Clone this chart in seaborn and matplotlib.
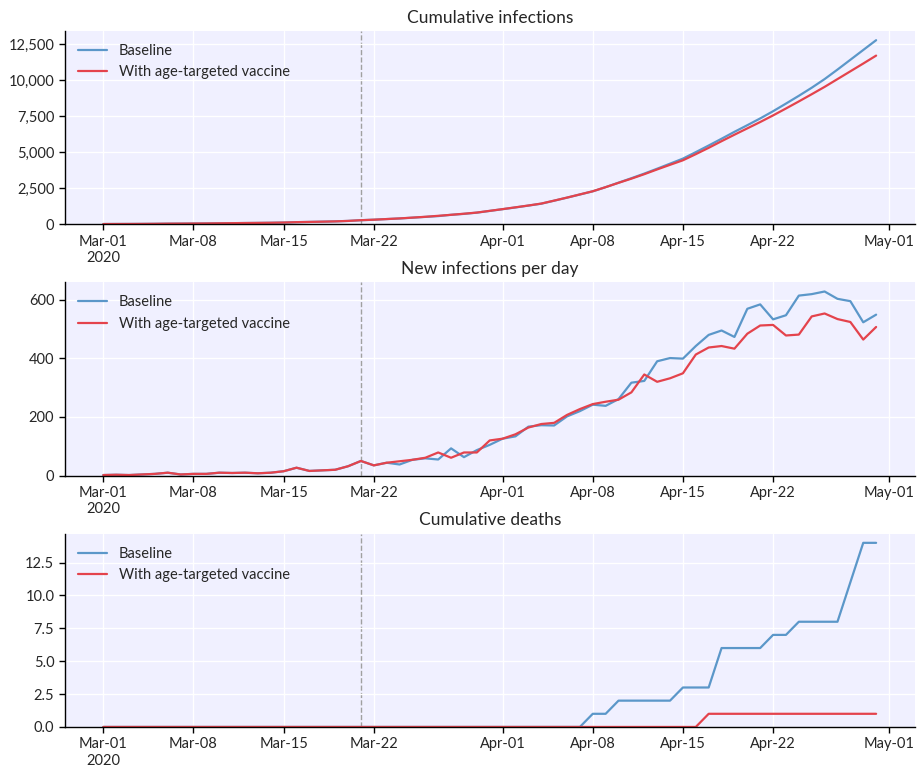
import seaborn as sns
import pandas as pd
import numpy as np
import matplotlib.pyplot as plt
from matplotlib.ticker import FuncFormatter

dates = pd.date_range("2020-03-01", "2020-04-30", freq="D")
start_day = pd.Timestamp("2020-03-21")

cum_inf_base = [20, 23, 25, 29, 35, 45, 49, 55, 61, 71, 80, 90, 98, 108, 123, 150,
                166, 184, 204, 236, 286, 320, 365, 405, 460, 515, 570, 660, 725, 810,
                930, 1050, 1170, 1300, 1430, 1640, 1850, 2070, 2290, 2580, 2890, 3200,
                3520, 3860, 4210, 4560, 5010, 5470, 5940, 6420, 6880, 7350, 7850, 8380,
                8920, 9480, 10080, 10740, 11420, 12100, 12780]
cum_inf_vacc = [20, 23, 25, 29, 35, 45, 49, 55, 61, 71, 80, 90, 98, 108, 123, 150,
                166, 184, 204, 236, 286, 320, 365, 410, 465, 522, 590, 660, 735, 815,
                935, 1055, 1180, 1305, 1440, 1645, 1855, 2075, 2295, 2580, 2880, 3170,
                3480, 3810, 4130, 4444, 4870, 5310, 5770, 6220, 6660, 7100, 7560, 8040,
                8530, 9030, 9540, 10080, 10620, 11160, 11710]

new_inf_base = [2, 3, 2, 4, 6, 10, 4, 6, 6, 10, 9, 10, 8, 10, 15, 27, 16, 18, 20, 32,
                50, 35, 44, 38, 54, 59, 55, 93, 63, 87, 105, 126, 134, 167, 172, 171,
                202, 220, 242, 238, 261, 317, 323, 390, 401, 399, 442, 480, 495, 473,
                569, 584, 533, 547, 614, 619, 628, 603, 595, 523, 549]
new_inf_vacc = [2, 3, 2, 4, 6, 10, 4, 6, 6, 10, 9, 10, 8, 10, 15, 27, 16, 18, 20, 32,
                50, 35, 44, 49, 54, 61, 79, 61, 79, 79, 120, 126, 141, 164, 176, 180,
                207, 227, 244, 252, 259, 284, 345, 320, 332, 349, 413, 437, 442, 433,
                484, 512, 514, 478, 481, 543, 553, 534, 524, 464, 507]

cum_deaths_base = [0] * 38 + [1, 1, 2, 2, 2, 2, 2, 3, 3, 3, 6, 6, 6, 6, 7, 7, 8, 8, 8, 8,
                              11, 14, 14]
cum_deaths_vacc = [0] * 47 + [1] * 14

titles = ["Cumulative infections", "New infections per day", "Cumulative deaths"]
series = [(cum_inf_base, cum_inf_vacc), (new_inf_base, new_inf_vacc),
          (cum_deaths_base, cum_deaths_vacc)]
labels = ["Baseline", "With age-targeted vaccine"]
colors = ["#5b97c9", "#e4434c"]

tick_dates = pd.to_datetime(["2020-03-01", "2020-03-08", "2020-03-15", "2020-03-22",
                             "2020-04-01", "2020-04-08", "2020-04-15", "2020-04-22",
                             "2020-05-01"])
tick_labels = ["Mar-01\n2020", "Mar-08", "Mar-15", "Mar-22", "Apr-01", "Apr-08",
               "Apr-15", "Apr-22", "May-01"]

sns.set_theme(style="darkgrid", rc={
    "axes.facecolor": "#f0f0ff",
    "grid.color": "white",
    "axes.edgecolor": "black",
    "xtick.bottom": True,
    "ytick.left": True,
})
plt.rcParams["font.family"] = ["Lato", "DejaVu Sans"]

fig, axes = plt.subplots(3, 1, figsize=(9.24, 7.75), dpi=100)
fig.subplots_adjust(left=0.07, right=0.99, top=0.96, bottom=0.062, hspace=0.30)

for ax, title, (base, vacc) in zip(axes, titles, series):
    sns.lineplot(x=dates, y=base, ax=ax, color=colors[0], label=labels[0], linewidth=1.6)
    sns.lineplot(x=dates, y=vacc, ax=ax, color=colors[1], label=labels[1], linewidth=1.6)
    ax.axvline(start_day, color="#a0a0a0", linestyle="--", linewidth=1, zorder=0.5)
    ax.set_title(title, fontsize=12.5)
    ax.set_xlabel("")
    ax.set_ylabel("")
    ax.set_xticks(tick_dates)
    ax.set_xticklabels(tick_labels, fontsize=10.5)
    ax.tick_params(axis="y", labelsize=10.5)
    ax.tick_params(length=4, width=1, color="black")
    ax.set_ylim(bottom=0)
    ax.set_xlim(dates[0] - pd.Timedelta(days=3), dates[-1] + pd.Timedelta(days=3))
    ax.legend(loc="upper left", frameon=False, fontsize=10.5)
    for s in ["top", "right"]:
        ax.spines[s].set_visible(False)
    for s in ["left", "bottom"]:
        ax.spines[s].set_linewidth(1)

axes[0].yaxis.set_major_formatter(FuncFormatter(lambda v, p: f"{v:,.0f}"))
axes[2].yaxis.set_major_formatter(FuncFormatter(lambda v, p: f"{v:.1f}"))

plt.savefig("out.png")
